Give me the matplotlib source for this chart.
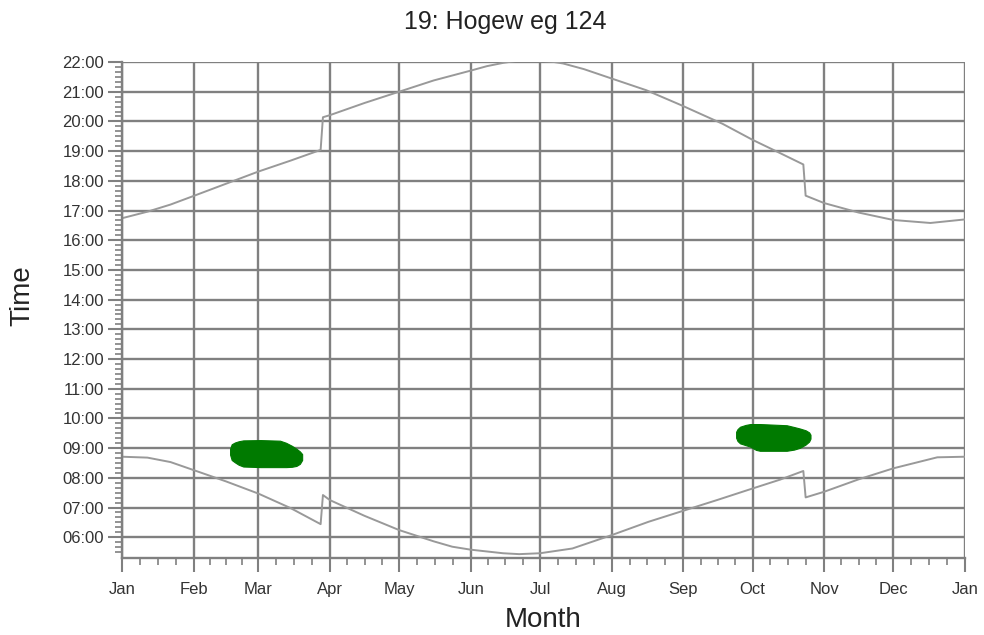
import matplotlib
matplotlib.use("Agg")
import matplotlib.pyplot as plt
import numpy as np

plt.rcParams['font.family'] = ['Liberation Sans', 'DejaVu Sans']

# ---- data (day of year, time in hours) ----
month_labels = ["Jan", "Feb", "Mar", "Apr", "May", "Jun", "Jul", "Aug", "Sep",
                "Oct", "Nov", "Dec", "Jan"]
month_days = [0, 31, 59, 90, 120, 151, 181, 212, 243, 273, 304, 334, 365]

sunset_days = [0, 11, 21, 31, 45, 59, 73, 86, 87, 90, 105, 120, 135, 151, 158,
               165, 172, 180, 187, 191, 200, 211, 227, 242, 260, 273, 285, 295,
               296, 304, 319, 334, 350, 365]
sunset_time = [16.74, 16.96, 17.20, 17.49, 17.90, 18.31, 18.68, 19.04, 20.14,
               20.21, 20.62, 21.00, 21.38, 21.71, 21.86, 21.97, 22.05, 22.05,
               22.00, 21.95, 21.76, 21.47, 21.05, 20.55, 19.92, 19.38, 18.93,
               18.55, 17.50, 17.25, 16.93, 16.68, 16.58, 16.70]

sunrise_days = [0, 11, 21, 31, 45, 59, 73, 86, 87, 90, 105, 120, 135, 143, 151,
                165, 172, 181, 195, 212, 228, 243, 258, 273, 285, 295, 296, 304,
                319, 334, 353, 365]
sunrise_time = [8.71, 8.68, 8.53, 8.26, 7.88, 7.47, 6.98, 6.44, 7.42, 7.25,
                6.72, 6.24, 5.86, 5.68, 5.58, 5.46, 5.43, 5.46, 5.62, 6.07,
                6.52, 6.89, 7.26, 7.64, 7.94, 8.23, 7.34, 7.53, 7.95, 8.32,
                8.69, 8.71]

# shadow periods: day, start time, end time
shadow1_days = [46.8, 47.5, 48.9, 50.5, 52.5, 60.0, 68.4, 71.0, 73.5, 75.5,
                77.0, 78.0]
shadow1_start = [8.78, 8.60, 8.52, 8.44, 8.38, 8.36, 8.36, 8.36, 8.37, 8.40,
                 8.47, 8.60]
shadow1_end = [8.98, 9.13, 9.19, 9.23, 9.26, 9.27, 9.25, 9.18, 9.08, 8.98,
               8.89, 8.80]

shadow2_days = [265.9, 266.5, 267.6, 270.0, 272.0, 274.5, 276.2, 287.8, 291.0,
                293.5, 296.0, 297.5, 298.1]
shadow2_start = [9.35, 9.24, 9.16, 9.10, 9.05, 8.94, 8.91, 8.91, 8.95, 9.01,
                 9.12, 9.22, 9.32]
shadow2_end = [9.55, 9.64, 9.72, 9.78, 9.81, 9.81, 9.81, 9.77, 9.71, 9.66,
               9.60, 9.53, 9.45]

hour_ticks = list(range(6, 23))
hour_labels = [f"{h:02d}:00" for h in hour_ticks]

# ---- figure ----
fig = plt.figure(figsize=(9.84, 6.35), dpi=100)
ax = fig.add_axes([122/984, 1-558/635, (965-122)/984, (558-62)/635])

grid_c = '#808080'
ax.set_xlim(0, 365)
ax.set_ylim(5.3, 22)

ax.set_xticks(month_days)
ax.set_xticklabels(month_labels)
minor_x = []
for a, b in zip(month_days[:-1], month_days[1:]):
    minor_x += [a + (b - a) * k / 4 for k in (1, 2, 3)]
ax.set_xticks(minor_x, minor=True)

ax.set_yticks(hour_ticks)
ax.set_yticklabels(hour_labels)
ax.set_yticks(np.arange(5.5, 22.0, 1/6), minor=True)

ax.grid(True, which='major', color=grid_c, linewidth=1.7)
ax.set_axisbelow(True)

for s in ['top', 'right']:
    ax.spines[s].set_visible(False)
for s in ['left', 'bottom']:
    ax.spines[s].set_color(grid_c)
    ax.spines[s].set_linewidth(1.7)

ax.tick_params(which='major', length=10, width=1.5, color=grid_c,
               labelsize=12, labelcolor='#333333')
ax.tick_params(axis='x', which='major', pad=7)
ax.tick_params(axis='y', which='major', pad=3)
ax.tick_params(which='minor', length=5, width=1.2, color=grid_c)

ax.plot(sunset_days, sunset_time, color='#999999', linewidth=1.4, clip_on=True)
ax.plot(sunrise_days, sunrise_time, color='#999999', linewidth=1.4, clip_on=True)

ax.fill_between(shadow1_days, shadow1_start, shadow1_end, color='#007a00',
                linewidth=0.8, edgecolor='#007a00', zorder=3)
ax.fill_between(shadow2_days, shadow2_start, shadow2_end, color='#007a00',
                linewidth=0.8, edgecolor='#007a00', zorder=3)

fig.text(505/984, 1-22/635, "19: Hogew eg 124", fontsize=18, color='#222222',
         ha='center', va='center')
fig.text(543/984, 1-620/635, "Month", fontsize=20, color='#222222',
         ha='center', va='center')
fig.text(22/984, 1-296/635, "Time", fontsize=20, color='#222222',
         ha='center', va='center', rotation=90)

fig.savefig("out.png", dpi=100)
